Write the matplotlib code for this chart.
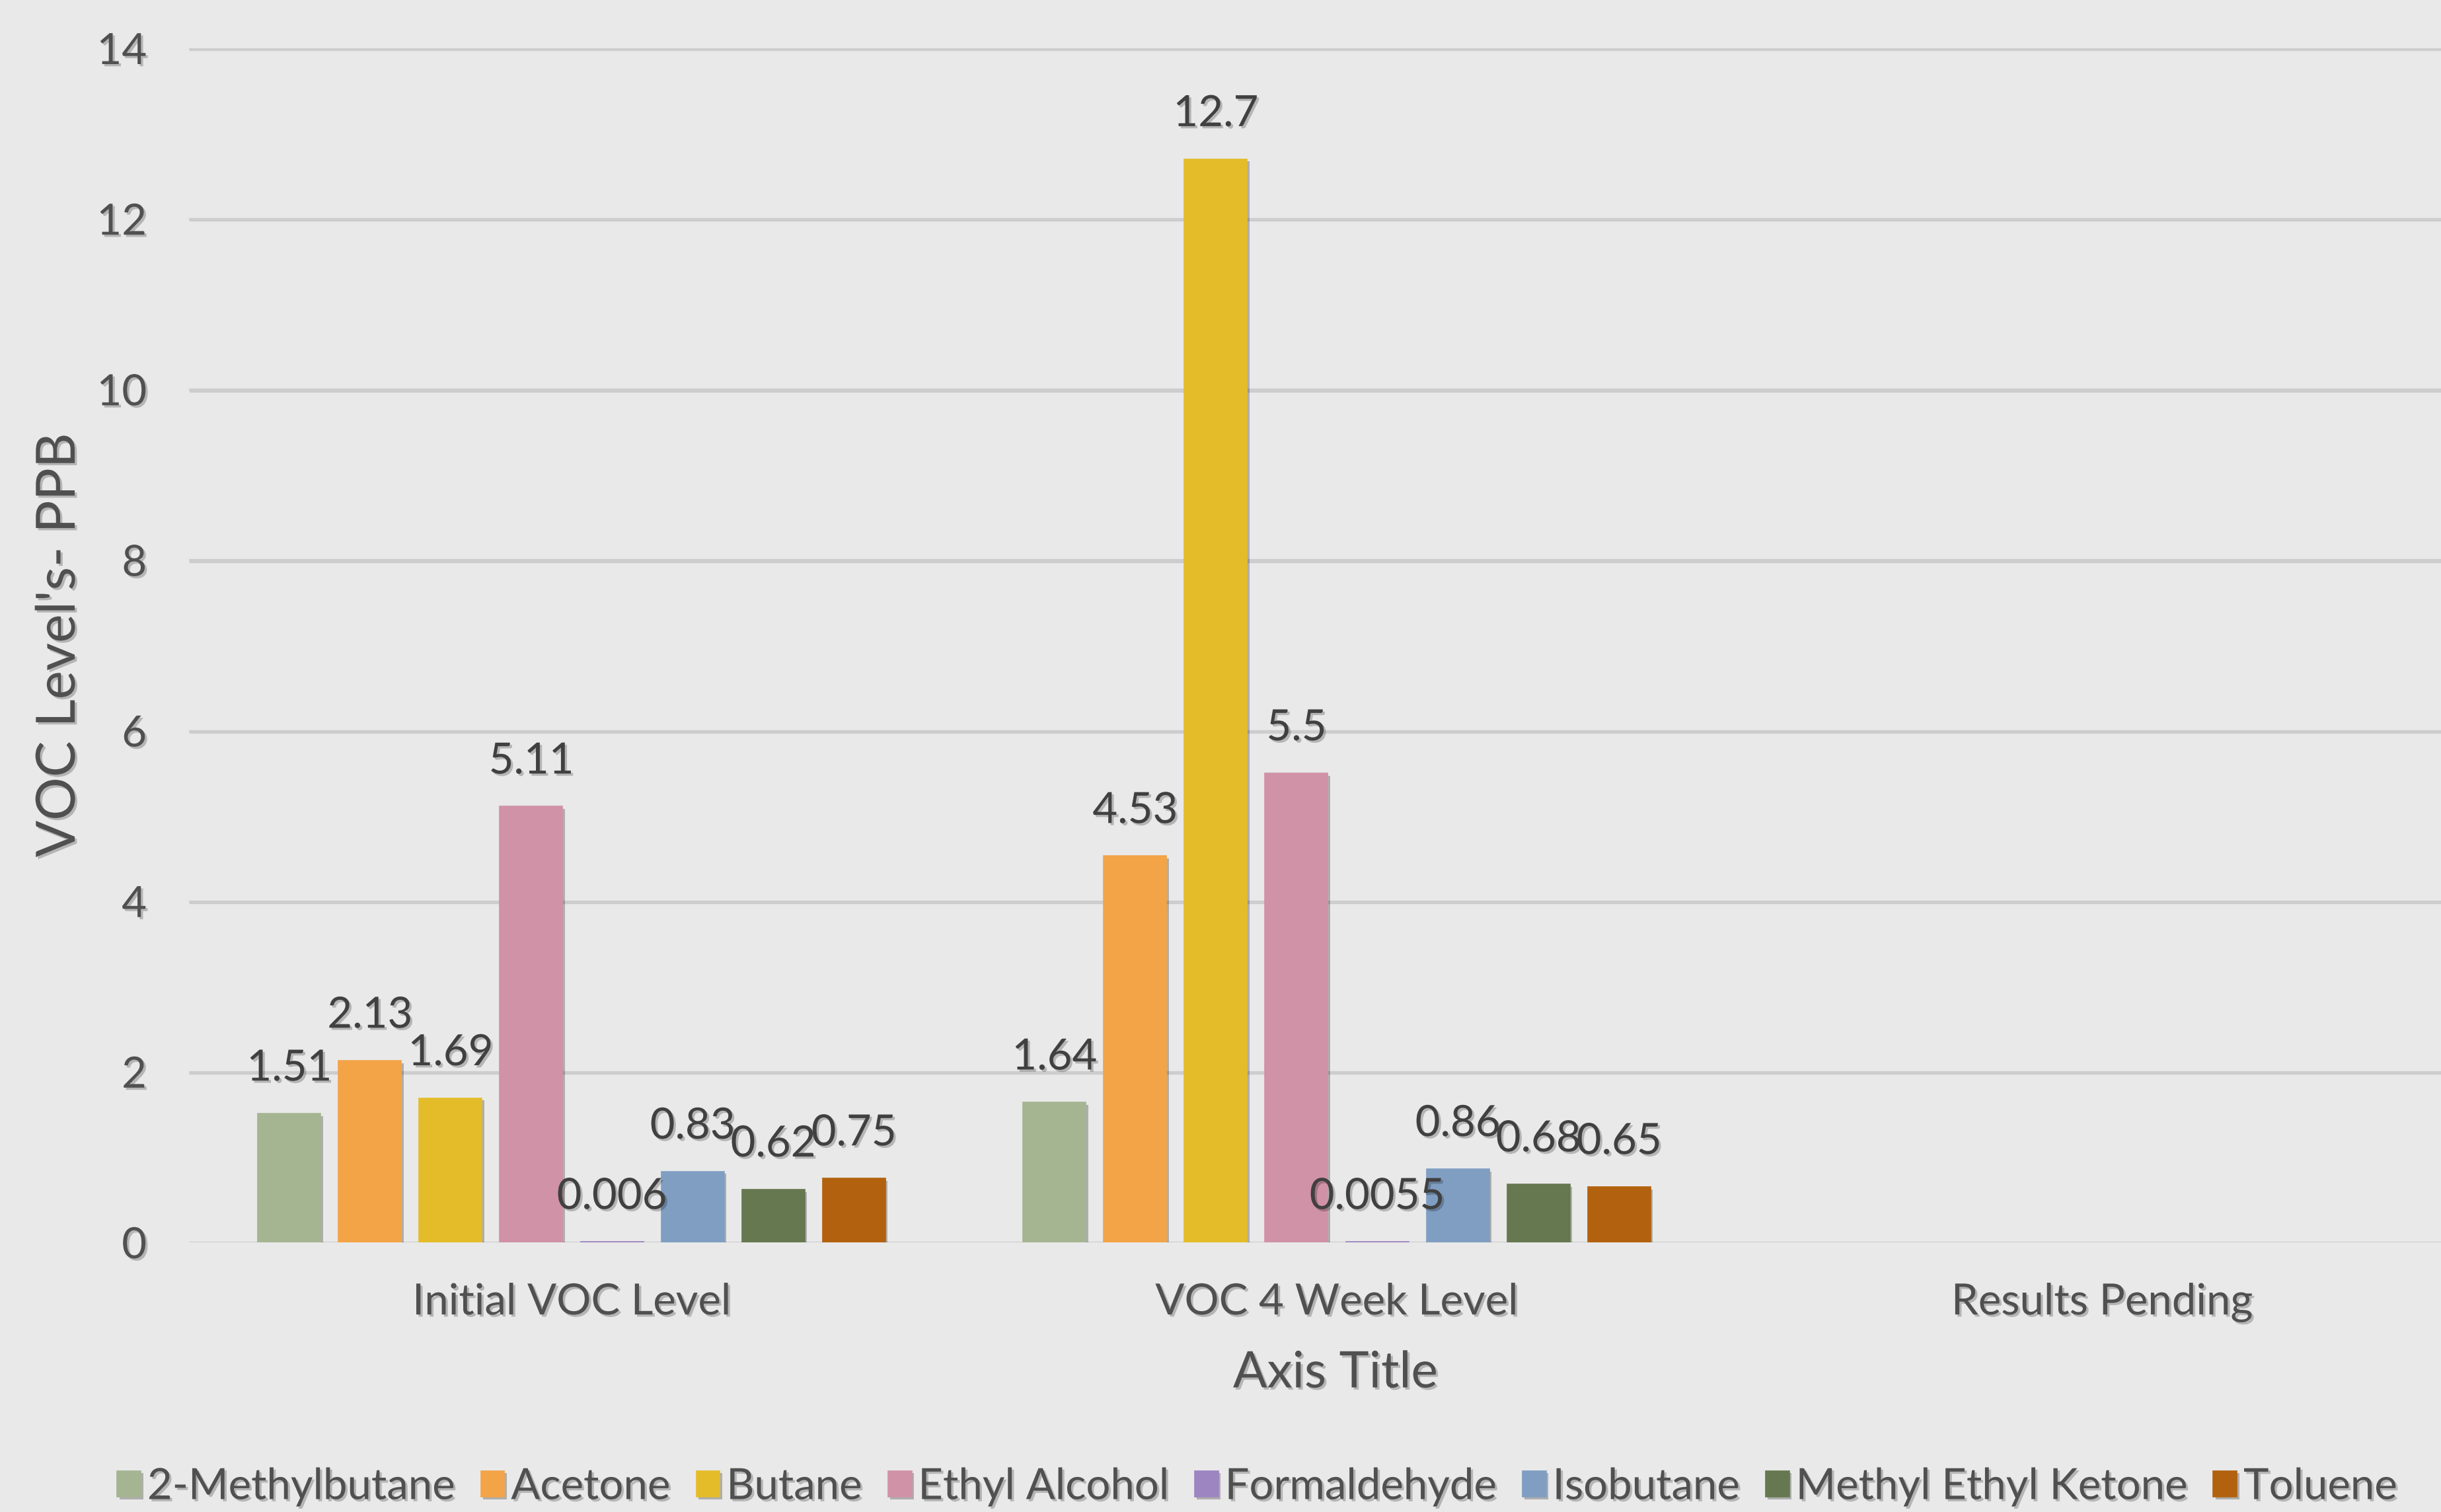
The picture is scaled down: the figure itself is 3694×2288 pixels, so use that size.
import matplotlib
matplotlib.use("Agg")
import matplotlib.pyplot as plt
import matplotlib.patheffects as pe
import numpy as np

categories = ["Initial VOC Level", "VOC 4 Week Level", "Results Pending"]
series_names = ["2-Methylbutane", "Acetone", "Butane", "Ethyl Alcohol",
                "Formaldehyde", "Isobutane", "Methyl Ethyl Ketone", "Toluene"]
initial_values = [1.51, 2.13, 1.69, 5.11, 0.006, 0.83, 0.62, 0.75]
week4_values = [1.64, 4.53, 12.7, 5.5, 0.0055, 0.86, 0.68, 0.65]
pending_values = [None] * 8
value_labels = [["1.51", "2.13", "1.69", "5.11", "0.006", "0.83", "0.62", "0.75"],
                ["1.64", "4.53", "12.7", "5.5", "0.0055", "0.86", "0.68", "0.65"]]
y_ticks = [0, 2, 4, 6, 8, 10, 12, 14]
colors = ["#A5B592", "#F3A447", "#E4BC2A", "#D092A7",
          "#9C85C0", "#809EC2", "#667850", "#B2620E"]

FONT = ["Lato", "DejaVu Sans"]
plt.rcParams['font.family'] = FONT
TXT = "#505050"
LBL = "#404040"

fig = plt.figure(figsize=(18.47, 11.44), dpi=200)
fig.patch.set_facecolor("#E9E9E9")
ax = fig.add_axes([286/3694, 1-1880/2288, (3760-286)/3694, (1880-73)/2288])
ax.set_facecolor("none")

text_shadow = [pe.SimplePatchShadow(offset=(1.2, -1.2), shadow_rgbFace="black", alpha=0.22), pe.Normal()]
bar_shadow = [pe.SimplePatchShadow(offset=(1.3, -1.3), shadow_rgbFace="black", alpha=0.25), pe.Normal()]

step = 0.1054
width = 0.082
x = np.arange(len(categories))
all_vals = list(zip(initial_values, week4_values, pending_values))
for i, name in enumerate(series_names):
    vals = [v if v is not None else 0 for v in all_vals[i]]
    pos = x + (i - 3.5) * step
    bars = ax.bar(pos[:2], vals[:2], width=width, color=colors[i], edgecolor=colors[i],
                  linewidth=0.6, label=name, zorder=3)
    for b in bars:
        b.set_path_effects(bar_shadow)
    for j in range(2):
        t = ax.annotate(value_labels[j][i], (pos[j], vals[j]), xytext=(0, 14),
                        textcoords="offset points", ha="center", va="bottom",
                        fontsize=23.5, color=LBL, zorder=5)
        t.set_path_effects(text_shadow)

ax.set_xlim(-0.5, 2.5)
ax.set_ylim(0, 14)
ax.set_yticks(y_ticks)
ax.set_xticks(x)
ax.set_xticklabels(categories)
ax.tick_params(axis="both", length=0, labelsize=23.5, colors=TXT)
ax.tick_params(axis="x", pad=22)
ax.tick_params(axis="y", pad=23)
for lab in ax.get_xticklabels() + ax.get_yticklabels():
    lab.set_path_effects(text_shadow)
for s in ax.spines.values():
    s.set_visible(False)
ax.yaxis.grid(True, color="#CDCDCD", linewidth=1.2, zorder=0,
              path_effects=[pe.SimpleLineShadow(offset=(0.8, -0.8), shadow_color="black", alpha=0.12), pe.Normal()])
ax.set_axisbelow(True)

fig.text(90/3694, 1-976/2288, "VOC Level's- PPB", rotation=90, ha="center", va="center",
         fontsize=29.5, color=TXT, path_effects=text_shadow)
fig.text(2021/3694, 1-2078/2288, "Axis Title", ha="center", va="center",
         fontsize=27.5, color=TXT, path_effects=text_shadow)

handles, labels = ax.get_legend_handles_labels()
leg = fig.legend(handles, labels, loc="center", bbox_to_anchor=(0.515, 1-2250/2288), ncol=8,
                 frameon=False, fontsize=23.5, handlelength=0.55, handleheight=0.55,
                 handletextpad=0.15, columnspacing=0.6, labelcolor=TXT)
for t in leg.get_texts():
    t.set_path_effects(text_shadow)

fig.savefig("out.png", dpi=200, facecolor=fig.get_facecolor())
